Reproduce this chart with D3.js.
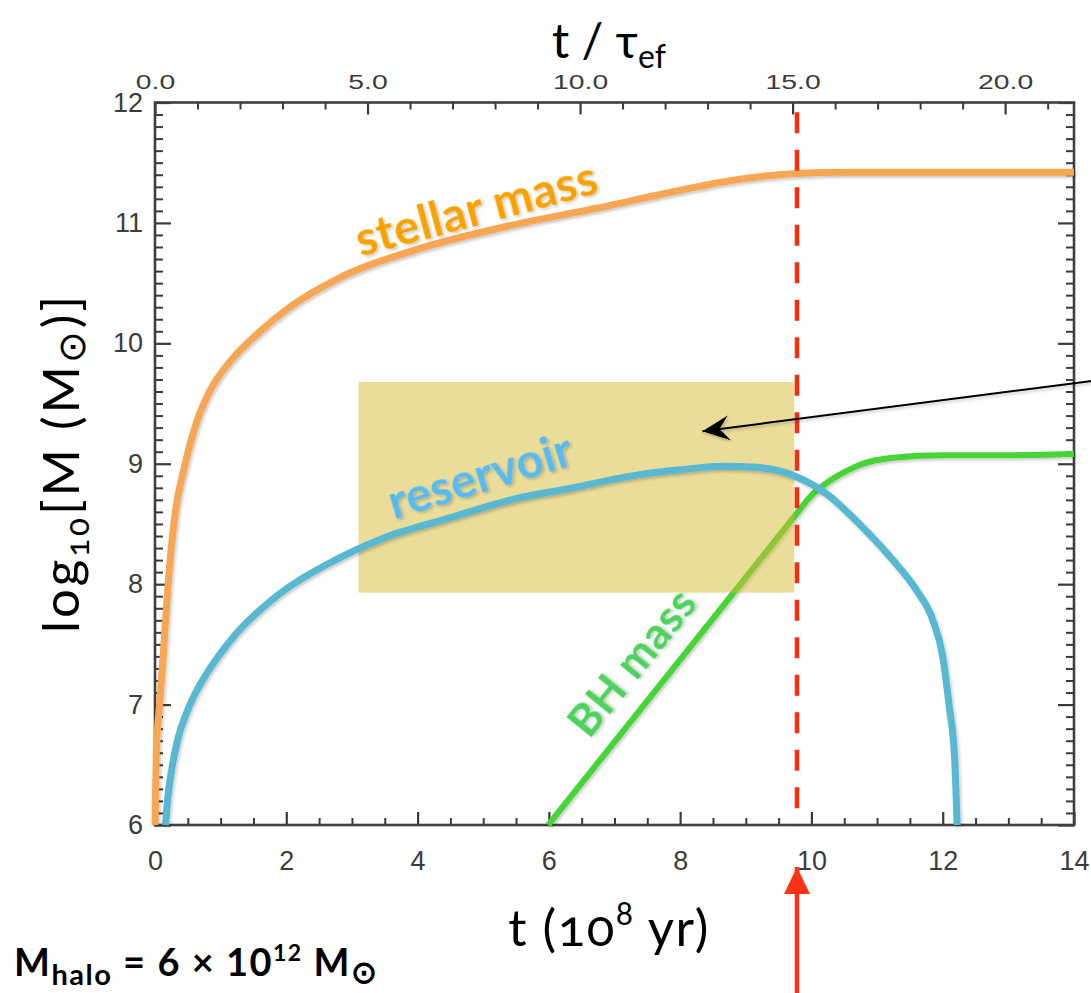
<!DOCTYPE html>
<html>
<head>
<meta charset="utf-8">
<script src="https://cdn.jsdelivr.net/npm/d3@7"></script>
<style>
  html, body { margin: 0; padding: 0; background: #fff; }
  svg { display: block; }
</style>
</head>
<body>
<svg id="chart" width="1091" height="993"></svg>
<script>
// Time t in units of 1e8 yr, masses as log10(M / Msun)
const stellarT    = [0, 0.02, 0.07, 0.13, 0.2, 0.3, 0.46, 0.63, 0.84, 1.13, 1.6, 2.05, 2.76, 3.99, 5.35, 6.71, 8.08, 8.76, 9.3, 9.78, 10.6, 12, 14];
const stellarLogM = [6.0, 6.6, 7.0, 7.45, 8.0, 8.56, 9.0, 9.34, 9.61, 9.84, 10.1, 10.3, 10.53, 10.78, 10.97, 11.12, 11.28, 11.35, 11.39, 11.41, 11.42, 11.42, 11.42];

const reservoirT    = [0.16, 0.2, 0.26, 0.35, 0.48, 0.62, 0.79, 1.19, 1.85, 2.71, 3.47, 4.49, 5.5, 6.27, 7.38, 8.0, 8.65, 9.16, 9.78, 10.23, 10.73, 11.24, 11.6, 11.85, 12.0, 12.1, 12.18, 12.22];
const reservoirLogM = [6.0, 6.25, 6.48, 6.72, 6.93, 7.1, 7.26, 7.56, 7.90, 8.19, 8.38, 8.55, 8.71, 8.79, 8.91, 8.95, 8.98, 8.97, 8.89, 8.75, 8.50, 8.2, 7.95, 7.70, 7.40, 6.98, 6.57, 6.0];

const bhT    = [5.99, 9.21, 9.78, 9.97, 10.23, 10.5, 10.73, 11.24, 12.0, 12.86, 14];
const bhLogM = [6.0, 8.2, 8.59, 8.72, 8.84, 8.93, 8.99, 9.05, 9.07, 9.07, 9.08];

const bottomTicks = [0, 2, 4, 6, 8, 10, 12, 14];
const leftTicks   = [6, 7, 8, 9, 10, 11, 12];
const topTicks    = [0, 5, 10, 15, 20];

const tQuench  = 9.78;          // quenching time, marked in red
const tauAtEnd = 21.62;         // t / tau_ef at t = 14
const boxT     = [3.1, 9.74];   // highlighted window
const boxLogM  = [7.93, 9.68];
const pointerFrom = [14.3, 9.69];
const pointerTo   = [8.34, 9.27];

const svg = d3.select('#chart');

const x    = d3.scaleLinear().domain([0, 14]).range([155, 1074]);
const y    = d3.scaleLinear().domain([6, 12]).range([825, 102.5]);
const xTau = d3.scaleLinear().domain([0, tauAtEnd]).range(x.range());

// ---------- defs: soft shadow + arrowheads ----------
const defs = svg.append('defs');
const sh = defs.append('filter').attr('id', 'soft')
  .attr('x', '-10%').attr('y', '-10%').attr('width', '120%').attr('height', '130%');
sh.append('feDropShadow').attr('dx', 1.5).attr('dy', 2).attr('stdDeviation', 1.6)
  .attr('flood-color', '#000').attr('flood-opacity', 0.22);

defs.append('marker').attr('id', 'barb')
  .attr('markerUnits', 'userSpaceOnUse').attr('viewBox', '-30 -15 32 30')
  .attr('refX', 0).attr('refY', 0).attr('markerWidth', 32).attr('markerHeight', 30)
  .attr('orient', 'auto')
  .append('path').attr('d', 'M0,0 L-27,-12.5 L-17,0 L-27,12.5 Z').attr('fill', '#000');

defs.append('marker').attr('id', 'redhead')
  .attr('markerUnits', 'userSpaceOnUse').attr('viewBox', '-28 -15 30 30')
  .attr('refX', 0).attr('refY', 0).attr('markerWidth', 30).attr('markerHeight', 30)
  .attr('orient', 'auto')
  .append('path').attr('d', 'M0,0 L-27,-13 L-27,13 Z').attr('fill', '#ff3215');

// ---------- axes ----------
const tickColor = '#3a3a3a';
function addAxis(gen, transform, width) {
  const g = svg.append('g').attr('transform', transform).call(gen);
  g.select('.domain').remove();
  g.selectAll('.tick line').attr('stroke', tickColor).attr('stroke-width', width);
  return g;
}
const notIn = (arr) => (v) => !arr.some(a => Math.abs(a - v) < 1e-9);

// bottom
const bMajor = addAxis(d3.axisBottom(x).tickValues(bottomTicks).tickSizeInner(-13).tickSizeOuter(0)
  .tickPadding(26).tickFormat(d3.format('d')), `translate(0,${y(6)})`, 2.2);
addAxis(d3.axisBottom(x).tickValues(d3.range(0, 14.01, 0.5).filter(notIn(bottomTicks)))
  .tickSize(-7).tickFormat(''), `translate(0,${y(6)})`, 2);

// left
const lMajor = addAxis(d3.axisLeft(y).tickValues(leftTicks).tickSizeInner(-16).tickSizeOuter(0)
  .tickPadding(12).tickFormat(d3.format('d')), `translate(${x(0)},0)`, 2.2);
const minorY = d3.range(60, 121).map(v => v / 10).filter(notIn(leftTicks));
addAxis(d3.axisLeft(y).tickValues(minorY).tickSize(-8).tickFormat(''), `translate(${x(0)},0)`, 2);

// right (no labels)
addAxis(d3.axisRight(y).tickValues(leftTicks).tickSize(-16).tickFormat(''), `translate(${x(14)},0)`, 2.2);
addAxis(d3.axisRight(y).tickValues(minorY).tickSize(-8).tickFormat(''), `translate(${x(14)},0)`, 2);

// top: t / tau_ef
const tMajor = addAxis(d3.axisTop(xTau).tickValues(topTicks).tickSizeInner(-12).tickSizeOuter(0)
  .tickPadding(14).tickFormat(d3.format('.1f')), `translate(0,${y(12)})`, 2.2);
addAxis(d3.axisTop(xTau).tickValues(d3.range(0, 22, 1).filter(notIn(topTicks)))
  .tickSize(-7).tickFormat(''), `translate(0,${y(12)})`, 2);

[bMajor, lMajor].forEach(g => g.selectAll('.tick text')
  .attr('fill', '#3c3c3c').style('font-family', '"Liberation Sans", Arial, sans-serif')
  .style('font-size', '27px'));
tMajor.selectAll('.tick text')
  .attr('fill', '#3c3c3c').style('font-family', '"Liberation Sans", Arial, sans-serif')
  .style('font-size', '21px').attr('transform', 'scale(1.35,1)');

// frame
const [x0, x1] = x.range(), [y0, y1] = y.range();
svg.append('rect').attr('x', x0).attr('y', y1).attr('width', x1 - x0).attr('height', y0 - y1)
  .attr('fill', 'none').attr('stroke', '#3f3f3f').attr('stroke-width', 2.6);

// ---------- curves ----------
const line = d3.line().x(d => x(d[0])).y(d => y(d[1])).curve(d3.curveMonotoneX);
const zip = (a, b) => a.map((v, i) => [v, b[i]]);

const curves = svg.append('g').attr('fill', 'none').attr('stroke-linecap', 'butt');

curves.append('path').datum(zip(stellarT, stellarLogM)).attr('d', line)
  .attr('stroke', '#f7a752').attr('stroke-width', 7).attr('filter', 'url(#soft)');

curves.append('path').datum(zip(bhT, bhLogM)).attr('d', line)
  .attr('stroke', '#44d536').attr('stroke-width', 6).attr('filter', 'url(#soft)');

// highlighted window
svg.append('rect')
  .attr('x', x(boxT[0])).attr('y', y(boxLogM[1]))
  .attr('width', x(boxT[1]) - x(boxT[0])).attr('height', y(boxLogM[0]) - y(boxLogM[1]))
  .attr('fill', 'rgb(214,185,52)').attr('fill-opacity', 0.5);

svg.append('path').datum(zip(reservoirT, reservoirLogM)).attr('d', line)
  .attr('fill', 'none').attr('stroke', '#58b8d1').attr('stroke-width', 7).attr('filter', 'url(#soft)');

// quenching time
svg.append('line')
  .attr('x1', x(tQuench)).attr('x2', x(tQuench)).attr('y1', y(11.92)).attr('y2', y(6))
  .attr('stroke', '#ff2a0a').attr('stroke-width', 4.5).attr('stroke-dasharray', '21 16.5');

// pointer into the window
svg.append('line')
  .attr('x1', x(pointerFrom[0])).attr('y1', y(pointerFrom[1]))
  .attr('x2', x(pointerTo[0])).attr('y2', y(pointerTo[1]))
  .attr('stroke', '#000').attr('stroke-width', 2).attr('marker-end', 'url(#barb)')
  .attr('filter', 'url(#soft)');

// red arrow under the axis
svg.append('line')
  .attr('x1', x(tQuench)).attr('x2', x(tQuench)).attr('y1', 1000).attr('y2', 867)
  .attr('stroke', '#ff3215').attr('stroke-width', 4.5).attr('marker-end', 'url(#redhead)');

// ---------- curve labels ----------
function curveLabel(text, t, m, angle, size, color) {
  svg.append('text')
    .attr('transform', `translate(${x(t)},${y(m)}) rotate(${angle})`)
    .attr('text-anchor', 'middle').attr('dominant-baseline', 'central')
    .style('font-family', 'Lato, "Open Sans", sans-serif').style('font-weight', 700)
    .style('font-size', size + 'px').style('letter-spacing', '0.5px')
    .attr('fill', color).attr('filter', 'url(#soft)')
    .text(text);
}
curveLabel('stellar mass', 4.89, 11.13, -15, 47, '#f6a200');
curveLabel('reservoir', 4.95, 8.91, -17, 47, '#58baf3');
curveLabel('BH mass', 7.25, 7.36, -51, 44, '#4dd35c');

// ---------- titles ----------
const titleFont = 'Lato, "Open Sans", sans-serif';

const topTitle = svg.append('text').attr('x', 609).attr('y', 58).attr('text-anchor', 'middle')
  .style('font-family', titleFont).style('font-size', '48px').attr('fill', '#000');
topTitle.append('tspan').text('t / τ');
topTitle.append('tspan').attr('dy', 10).style('font-size', '32px').text('ef');

const botTitle = svg.append('text').attr('x', 609).attr('y', 946).attr('text-anchor', 'middle')
  .style('font-family', titleFont).style('font-size', '51px').style('letter-spacing', '1.5px')
  .attr('fill', '#000').style('font-variant-numeric', 'oldstyle-nums');
botTitle.append('tspan').text('t (10');
botTitle.append('tspan').attr('dy', -21).style('font-size', '32px').text('8');
botTitle.append('tspan').attr('dy', 21).text(' yr)');

const yTitle = svg.append('text').attr('transform', 'translate(79,463) rotate(-90)')
  .attr('text-anchor', 'middle')
  .style('font-family', titleFont).style('font-size', '51px').style('letter-spacing', '3px')
  .attr('fill', '#000').style('font-variant-numeric', 'oldstyle-nums');
yTitle.append('tspan').text('log');
yTitle.append('tspan').attr('dy', 10).style('font-size', '33px').text('10');
yTitle.append('tspan').attr('dy', -10).text('[M (M');
yTitle.append('tspan').attr('dy', 6).style('font-size', '38px').text('⊙');
yTitle.append('tspan').attr('dy', -6).text(')]');

const halo = svg.append('text').attr('x', 14).attr('y', 976)
  .style('font-family', titleFont).style('font-weight', 700).style('font-size', '38px')
  .style('letter-spacing', '1.5px').attr('fill', '#000');
halo.append('tspan').text('M');
halo.append('tspan').attr('dy', 9).style('font-size', '29px').text('halo');
halo.append('tspan').attr('dy', -9).text(' = 6 × 10');
halo.append('tspan').attr('dy', -15).style('font-size', '23px').text('12');
halo.append('tspan').attr('dy', 15).text(' M');
halo.append('tspan').attr('dy', 7).style('font-size', '31px').text('⊙');
</script>
</body>
</html>
